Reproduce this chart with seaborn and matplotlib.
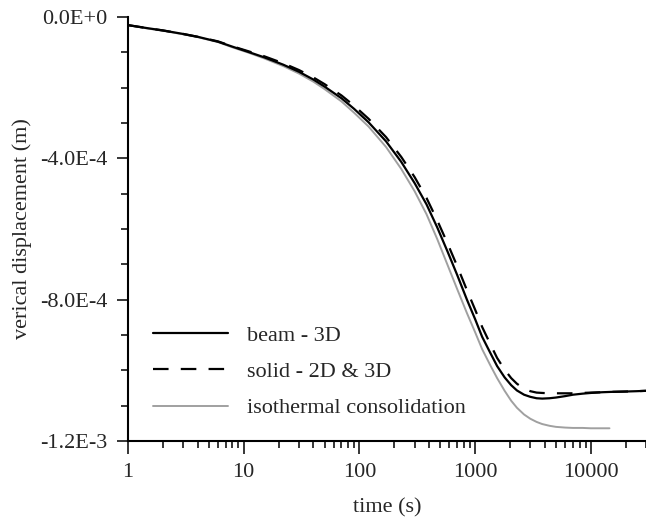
import numpy as np
import pandas as pd
import matplotlib
matplotlib.use("Agg")
import matplotlib.pyplot as plt
import seaborn as sns
from matplotlib.ticker import LogLocator, NullFormatter, MultipleLocator

# ---------------------------------------------------------------
# Datos (desplazamiento vertical, x1E-4 m)
# ---------------------------------------------------------------
time_s = [1, 1.5, 2, 3, 4, 6, 8, 11, 15, 22, 30, 40, 50, 70, 90, 120, 170,
          230, 300, 380, 470, 580, 700, 850, 1000, 1150, 1350, 1550, 1800,
          2050, 2300, 2650, 3000, 3400, 3800, 4400, 5000, 6000, 7000, 8500,
          10000, 12500, 15000, 20000, 25000, 30000]

beam_3d = [-0.23, -0.32, -0.38, -0.48, -0.56, -0.70, -0.84, -0.99, -1.14,
           -1.35, -1.55, -1.77, -1.97, -2.30, -2.60, -2.98, -3.52, -4.10,
           -4.70, -5.30, -5.95, -6.65, -7.30, -8.00, -8.55, -9.05, -9.50,
           -9.88, -10.20, -10.42, -10.57, -10.69, -10.75, -10.79, -10.80,
           -10.79, -10.77, -10.73, -10.69, -10.66, -10.64, -10.62, -10.61,
           -10.60, -10.59, -10.58]

solid_2d_3d = [-0.23, -0.32, -0.38, -0.48, -0.56, -0.69, -0.83, -0.97, -1.11,
               -1.31, -1.50, -1.71, -1.90, -2.22, -2.51, -2.88, -3.40, -3.96,
               -4.53, -5.12, -5.75, -6.42, -7.05, -7.73, -8.28, -8.77, -9.25,
               -9.65, -9.98, -10.22, -10.38, -10.52, -10.59, -10.63, -10.64,
               -10.65, -10.65, -10.65, -10.65, -10.64, -10.63, -10.62, -10.61,
               -10.60, -10.59, -10.58]

time_iso = [1, 1.5, 2, 3, 4, 6, 8, 11, 15, 22, 30, 40, 50, 70, 90, 120, 170,
            230, 300, 380, 470, 580, 700, 850, 1000, 1150, 1350, 1550, 1800,
            2050, 2300, 2650, 3000, 3400, 3800, 4400, 5000, 6000, 7000, 8500,
            10000, 12500, 14500]

isothermal = [-0.23, -0.33, -0.39, -0.49, -0.57, -0.71, -0.86, -1.01, -1.17,
              -1.39, -1.60, -1.83, -2.04, -2.39, -2.71, -3.10, -3.68, -4.30,
              -4.93, -5.58, -6.28, -7.03, -7.70, -8.38, -8.92, -9.40, -9.85,
              -10.22, -10.58, -10.86, -11.06, -11.25, -11.37, -11.46, -11.52,
              -11.57, -11.60, -11.62, -11.63, -11.63, -11.64, -11.64, -11.64]

series_labels = ["beam - 3D", "solid - 2D & 3D", "isothermal consolidation"]

y_ticks = [0.0, -4e-4, -8e-4, -1.2e-3]
y_tick_labels = ["0.0E+0", "-4.0E-4", "-8.0E-4", "-1.2E-3"]
x_ticks = [1, 10, 100, 1000, 10000]
x_tick_labels = ["1", "10", "100", "1000", "10000"]

# ---------------------------------------------------------------
sns.set_style("ticks")
plt.rcParams["font.family"] = ["Liberation Serif", "DejaVu Serif"]
FS = 16

df_beam = pd.DataFrame({"t": time_s, "u": np.array(beam_3d) * 1e-4})
df_solid = pd.DataFrame({"t": time_s, "u": np.array(solid_2d_3d) * 1e-4})
df_iso = pd.DataFrame({"t": time_iso, "u": np.array(isothermal) * 1e-4})

fig = plt.figure(figsize=(6.46, 5.17), dpi=100)
ax = fig.add_axes([128 / 646, 76 / 517, 518 / 646, 424 / 517])

sns.lineplot(data=df_iso, x="t", y="u", ax=ax, color="#a0a0a0", linewidth=1.4,
             label=series_labels[2], zorder=1)
sns.lineplot(data=df_beam, x="t", y="u", ax=ax, color="black", linewidth=1.6,
             label=series_labels[0], zorder=2)
sns.lineplot(data=df_solid, x="t", y="u", ax=ax, color="black", linewidth=1.6,
             label=series_labels[1], zorder=3)
ax.lines[-1].set_dashes((7, 5.5))

ax.set_xscale("log")
ax.set_xlim(1, 30000)
ax.set_ylim(-1.2e-3, 0)

ax.set_xticks(x_ticks)
ax.set_xticklabels(x_tick_labels)
ax.xaxis.set_minor_locator(LogLocator(base=10, subs=np.arange(2, 10)))
ax.xaxis.set_minor_formatter(NullFormatter())
ax.set_yticks(y_ticks)
ax.set_yticklabels(y_tick_labels)
ax.yaxis.set_minor_locator(MultipleLocator(1e-4))

ax.tick_params(axis="x", which="major", direction="out", length=9.5,
               width=1.1, labelsize=FS, pad=6, color="black")
ax.tick_params(axis="y", which="major", direction="out", length=8,
               width=1.1, labelsize=FS, pad=6.5, color="black")
ax.tick_params(axis="both", which="minor", direction="out", length=5,
               width=1.1, color="black")

for side in ["top", "right"]:
    ax.spines[side].set_visible(False)
for side in ["left", "bottom"]:
    ax.spines[side].set_linewidth(1.5)
    ax.spines[side].set_color("black")

ax.set_xlabel("time (s)", fontsize=FS, labelpad=12)
ax.set_ylabel("verical displacement (m)", fontsize=FS, labelpad=6)

handles, labels = ax.get_legend_handles_labels()
order = [labels.index(s) for s in series_labels]
ax.legend([handles[i] for i in order], [labels[i] for i in order],
          loc="upper left", bbox_to_anchor=(0.048, 0.273), frameon=False,
          fontsize=FS, handlelength=3.4, handletextpad=0.85,
          labelspacing=0.71, borderpad=0, borderaxespad=0)

fig.savefig("out.png", dpi=100)
plt.close(fig)
